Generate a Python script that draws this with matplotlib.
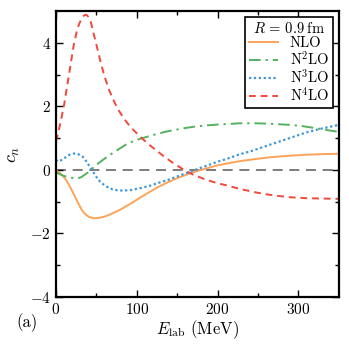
import numpy as np
import matplotlib
matplotlib.use("Agg")
import matplotlib.pyplot as plt

plt.rcParams['font.family'] = 'serif'
plt.rcParams['font.serif'] = ['cmr10', 'DejaVu Serif']
plt.rcParams['mathtext.fontset'] = 'cm'
plt.rcParams['axes.formatter.use_mathtext'] = True
plt.rcParams['font.size'] = 11

# curves (E_lab in MeV, c_n)
e_nlo = [0, 2, 5, 8, 12, 16, 20, 24, 28, 31, 34, 37, 41, 47, 53, 60, 66, 72, 78, 83, 93,
         103, 116, 124, 135, 147, 158, 170, 185, 199, 215, 228, 240, 255, 269, 290, 311,
         330, 350]
c_nlo = [0.0, -0.05, -0.1, -0.17, -0.3, -0.47, -0.66, -0.87, -1.07, -1.22, -1.33, -1.41,
         -1.48, -1.52, -1.51, -1.47, -1.41, -1.34, -1.27, -1.2, -1.05, -0.89, -0.69, -0.57,
         -0.43, -0.29, -0.18, -0.07, 0.04, 0.14, 0.22, 0.28, 0.32, 0.37, 0.41, 0.45, 0.48,
         0.5, 0.51]

e_n2lo = [0, 2, 6, 10, 16, 22, 27, 31, 35, 39, 45, 50, 55, 62, 70, 78, 86, 92, 104, 120,
          135, 147, 160, 170, 185, 200, 215, 228, 245, 260, 275, 290, 305, 323, 337, 350]
c_n2lo = [-0.05, -0.1, -0.15, -0.19, -0.23, -0.26, -0.26, -0.23, -0.16, -0.09, 0.05,
          0.16, 0.26, 0.39, 0.53, 0.66, 0.79, 0.87, 0.98, 1.1, 1.2, 1.26, 1.32, 1.36,
          1.4, 1.43, 1.45, 1.47, 1.47, 1.46, 1.44, 1.42, 1.38, 1.31, 1.25, 1.2]

e_n3lo = [0, 2, 5, 8, 12, 16, 20, 24, 28, 33, 36, 39, 42, 45, 48, 51, 55, 60, 65, 70,
          76, 83, 93, 103, 116, 124, 140, 158, 170, 185, 199, 215, 228, 240, 255, 269,
          290, 311, 330, 350]
c_n3lo = [0.32, 0.27, 0.29, 0.33, 0.4, 0.47, 0.51, 0.52, 0.49, 0.42, 0.33, 0.21, 0.1,
          -0.02, -0.14, -0.26, -0.38, -0.48, -0.56, -0.61, -0.64, -0.65, -0.63, -0.58,
          -0.5, -0.43, -0.3, -0.13, -0.02, 0.12, 0.25, 0.38, 0.5, 0.58, 0.71, 0.83, 1.01,
          1.19, 1.31, 1.42]

e_n4lo = [0, 2, 6, 10, 14, 18, 22, 26, 29, 32, 34, 36, 38, 40, 43, 47, 51, 55, 60, 66,
          72, 78, 84, 92, 104, 116, 125, 135, 145, 153, 160, 170, 185, 199, 215, 228,
          250, 269, 290, 311, 330, 350]
c_n4lo = [0.9, 1.1, 1.55, 2.05, 2.68, 3.31, 3.94, 4.4, 4.62, 4.78, 4.85, 4.88, 4.88,
          4.82, 4.67, 4.25, 3.84, 3.42, 2.95, 2.5, 2.15, 1.86, 1.62, 1.36, 1.05, 0.78,
          0.6, 0.4, 0.22, 0.09, -0.02, -0.15, -0.3, -0.41, -0.51, -0.6, -0.72, -0.8,
          -0.86, -0.89, -0.9, -0.91]

fig = plt.figure(figsize=(3.49, 3.49), dpi=100)
ax = fig.add_axes([0.1605, 0.149, 0.81, 0.819])

ax.axhline(0, color='#666666', lw=1.2, ls=(0, (6, 4)), zorder=1)
ax.plot(e_nlo, c_nlo, color='#fda35a', lw=1.4, label='NLO')
ax.plot(e_n2lo, c_n2lo, color='#55b15e', lw=1.4, ls=(0, (6, 2.5, 1.2, 2.5)), label=r'N$^2$LO')
ax.plot(e_n3lo, c_n3lo, color='#3b97d8', lw=1.6, ls=(0, (1, 1.2)), label=r'N$^3$LO')
ax.plot(e_n4lo, c_n4lo, color='#f4473c', lw=1.4, ls=(0, (3.5, 2.5)), label=r'N$^4$LO')

ax.set_xlim(0, 350)
ax.set_ylim(-4, 5)
ax.set_xticks([0, 100, 200, 300])
ax.set_xticks([50, 150, 250], minor=True)
ax.set_yticks([-4, -2, 0, 2, 4])
ax.set_yticks([-3, -1, 1, 3], minor=True)
ax.tick_params(which='both', direction='in', top=True, right=True, width=1)
ax.tick_params(which='major', length=5, labelsize=11)
ax.tick_params(which='minor', length=3)
for s in ax.spines.values():
    s.set_linewidth(1.6)

ax.set_xlabel(r'$E_{\rm lab}$ (MeV)', fontsize=12, labelpad=1)
ax.set_ylabel(r'$c_n$', fontsize=13, labelpad=6)
fig.text(0.048, 0.062, '(a)', fontsize=12)

leg = ax.legend(title=r'$R\,=\,0.9\;{\rm fm}$', loc='upper right', fancybox=False,
                edgecolor='black', framealpha=1, fontsize=10.5, title_fontsize=10.5,
                handlelength=2.0, borderpad=0.25, labelspacing=0.02, borderaxespad=0.4,
                handletextpad=0.8)
leg.get_frame().set_linewidth(1.2)

fig.savefig('out.png', dpi=100)
